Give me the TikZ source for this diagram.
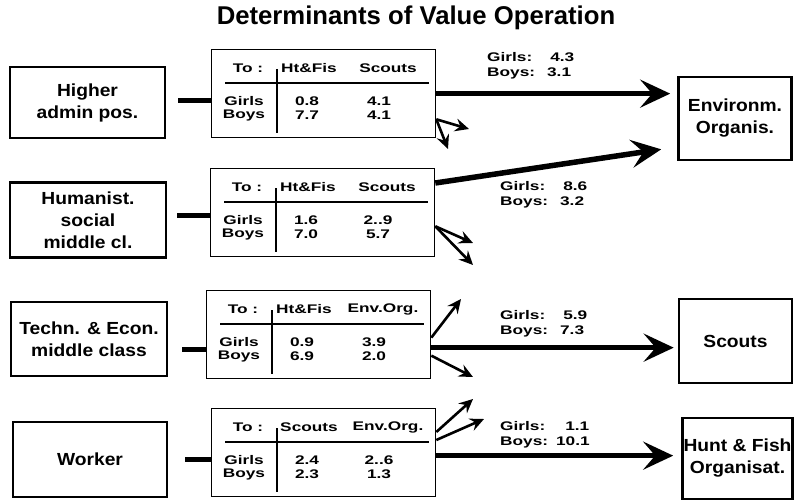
\documentclass[tikz,border=0pt]{standalone}
\usepackage{fontspec}
\setmainfont{Liberation Sans}
\newfontfamily\boxfont[FakeStretch=1.1]{Liberation Sans}
\newfontfamily\widefont[FakeStretch=1.38]{Liberation Sans}
\usetikzlibrary{arrows.meta}

\tikzset{
  classbox/.style={draw, line width=2.6pt, align=center, inner sep=0pt,
    font=\boxfont\bfseries\fontsize{17.5}{22}\selectfont},
  tabbox/.style={draw, line width=1.3pt, anchor=north west, inner sep=0pt,
    minimum width=224pt, minimum height=88pt},
  tabtext/.style={font=\widefont\bfseries\fontsize{12.5}{14}\selectfont, inner sep=0pt},
  tabline/.style={line width=1.1pt},
  flowlabel/.style={font=\widefont\bfseries\fontsize{12.5}{15}\selectfont, align=left,
    anchor=north west, inner sep=0pt},
  stub/.style={line width=5pt},
  mainarrow/.style={line width=5.5pt, -{Stealth[length=30pt,width=28pt,inset=12pt]}},
  sidearrow/.style={line width=2.6pt, -{Stealth[length=14pt,width=13pt,inset=5pt]}},
}

% table of values: name, left, top, head 1, head 2, girls 1, girls 2, boys 1, boys 2
\newcommand{\valtab}[9]{%
  \node[tabbox] (#1) at (#2,#3) {};
  \node[tabtext] (#1to) at (#2+37,#3+19) {To :};
  \node[tabtext] (#1ha) at (#2+98,#3+19) {#4};
  \node[tabtext] (#1hb) at (#2+177,#3+19) {#5};
  \draw[tabline] (#2+14,#3+34) -- (#2+218,#3+34);
  \draw[tabline] (#2+66,#3+20) -- (#2+66,#3+84);
  \node[tabtext] (#1g) at (#2+33,#3+52) {Girls};
  \node[tabtext] (#1b) at (#2+33,#3+66) {Boys};
  \node[tabtext] (#1ga) at (#2+96,#3+52) {#6};
  \node[tabtext] (#1gb) at (#2+168,#3+52) {#7};
  \node[tabtext] (#1ba) at (#2+96,#3+66) {#8};
  \node[tabtext] (#1bb) at (#2+168,#3+66) {#9};
}

\begin{document}
\begin{tikzpicture}[x=1pt,y=-1pt]
  \useasboundingbox (0,0) rectangle (794,500);

  \node[font=\bfseries\fontsize{25.7}{30}\selectfont] (title) at (416,18) {Determinants of Value Operation};

  % social classes
  \node[classbox, minimum width=155pt, minimum height=71pt] (hig) at (87.5,102.5) {Higher\\admin pos.};
  \node[classbox, minimum width=156pt, minimum height=75pt] (hum) at (88,220) {Humanist.\\social\\middle cl.};
  \node[classbox, minimum width=156pt, minimum height=74pt] (tec) at (89,339) {Techn. \& Econ.\\middle class};
  \node[classbox, minimum width=154pt, minimum height=75pt] (wor) at (90,459.5) {Worker};

  % organisations
  \node[classbox, minimum width=113pt, minimum height=83pt] (env) at (735,118.5) {Environm.\\Organis.};
  \node[classbox, minimum width=113pt, minimum height=84pt] (sco) at (735.5,341) {Scouts};
  \node[classbox, minimum width=110pt, minimum height=81pt] (hun) at (737.5,458.5) {Hunt \& Fish\\Organisat.};

  % tables
  \valtab{thig}{211}{49}{Ht\&Fis}{Scouts}{0.8}{4.1}{7.7}{4.1}
  \valtab{thum}{210}{168}{Ht\&Fis}{Scouts}{1.6}{2..9}{7.0}{5.7}
  \valtab{ttec}{206}{290}{Ht\&Fis}{Env.Org.}{0.9}{3.9}{6.9}{2.0}
  \valtab{twor}{211}{408}{Scouts}{Env.Org.}{2.4}{2..6}{2.3}{1.3}

  % stubs
  \draw[stub] ([xshift=12pt,yshift=2pt]hig.east) -- ([yshift=2pt]hig.east -| thig.west);
  \draw[stub] ([xshift=10pt,yshift=5pt]hum.east) -- ([yshift=5pt]hum.east -| thum.west);
  \draw[stub] ([xshift=14pt,yshift=-10pt]tec.east) -- ([yshift=-10pt]tec.east -| ttec.west);
  \draw[stub] ([xshift=17pt]wor.east) -- (wor.east -| twor.west);

  % main flows
  \draw[mainarrow, shorten >=7pt] (thig.east) -- (thig.east -| env.west);
  \draw[mainarrow] ([yshift=-15pt]thum.north east) -- ([xshift=-16pt,yshift=12pt]env.south west);
  \draw[mainarrow, shorten >=4pt] ([yshift=-13pt]ttec.east) -- ([yshift=-13pt]ttec.east -| sco.west);
  \draw[mainarrow, shorten >=8pt] ([yshift=-3pt]twor.east) -- ([yshift=-3pt]twor.east -| hun.west);

  \node[flowlabel] (lhig) at (487,52) {Girls:\hspace{18pt}4.3\\Boys:\hspace{12pt}3.1};
  \node[flowlabel] (lhum) at (500,181) {Girls:\hspace{18pt}8.6\\Boys:\hspace{12pt}3.2};
  \node[flowlabel] (ltec) at (500,310) {Girls:\hspace{18pt}5.9\\Boys:\hspace{12pt}7.3};
  \node[flowlabel] (lwor) at (500,421) {Girls:\hspace{20pt}1.1\\Boys:\hspace{8pt}10.1};

  % side flows
  \coordinate (ehig1) at (469,129);
  \coordinate (ehig2) at (448,149);
  \coordinate (ehum1) at (473,243);
  \coordinate (ehum2) at (473,265);
  \coordinate (etec1) at (461,299);
  \coordinate (etec2) at (473,377);
  \coordinate (ewor1) at (473,399);
  \coordinate (ewor2) at (484,419);
  \draw[sidearrow] ([yshift=19pt]thig.south east) -- (ehig1);
  \draw[sidearrow] ([yshift=19pt]thig.south east) -- (ehig2);
  \draw[sidearrow] ([yshift=31pt]thum.south east) -- (ehum1);
  \draw[sidearrow] ([yshift=31pt]thum.south east) -- (ehum2);
  \draw[sidearrow] ([yshift=-3pt]ttec.east) -- (etec1);
  \draw[sidearrow] ([yshift=-21pt]ttec.east) -- (etec2);
  \draw[sidearrow] ([yshift=-24pt]twor.north east) -- (ewor1);
  \draw[sidearrow] ([yshift=-32pt]twor.north east) -- (ewor2);
\end{tikzpicture}
\end{document}
